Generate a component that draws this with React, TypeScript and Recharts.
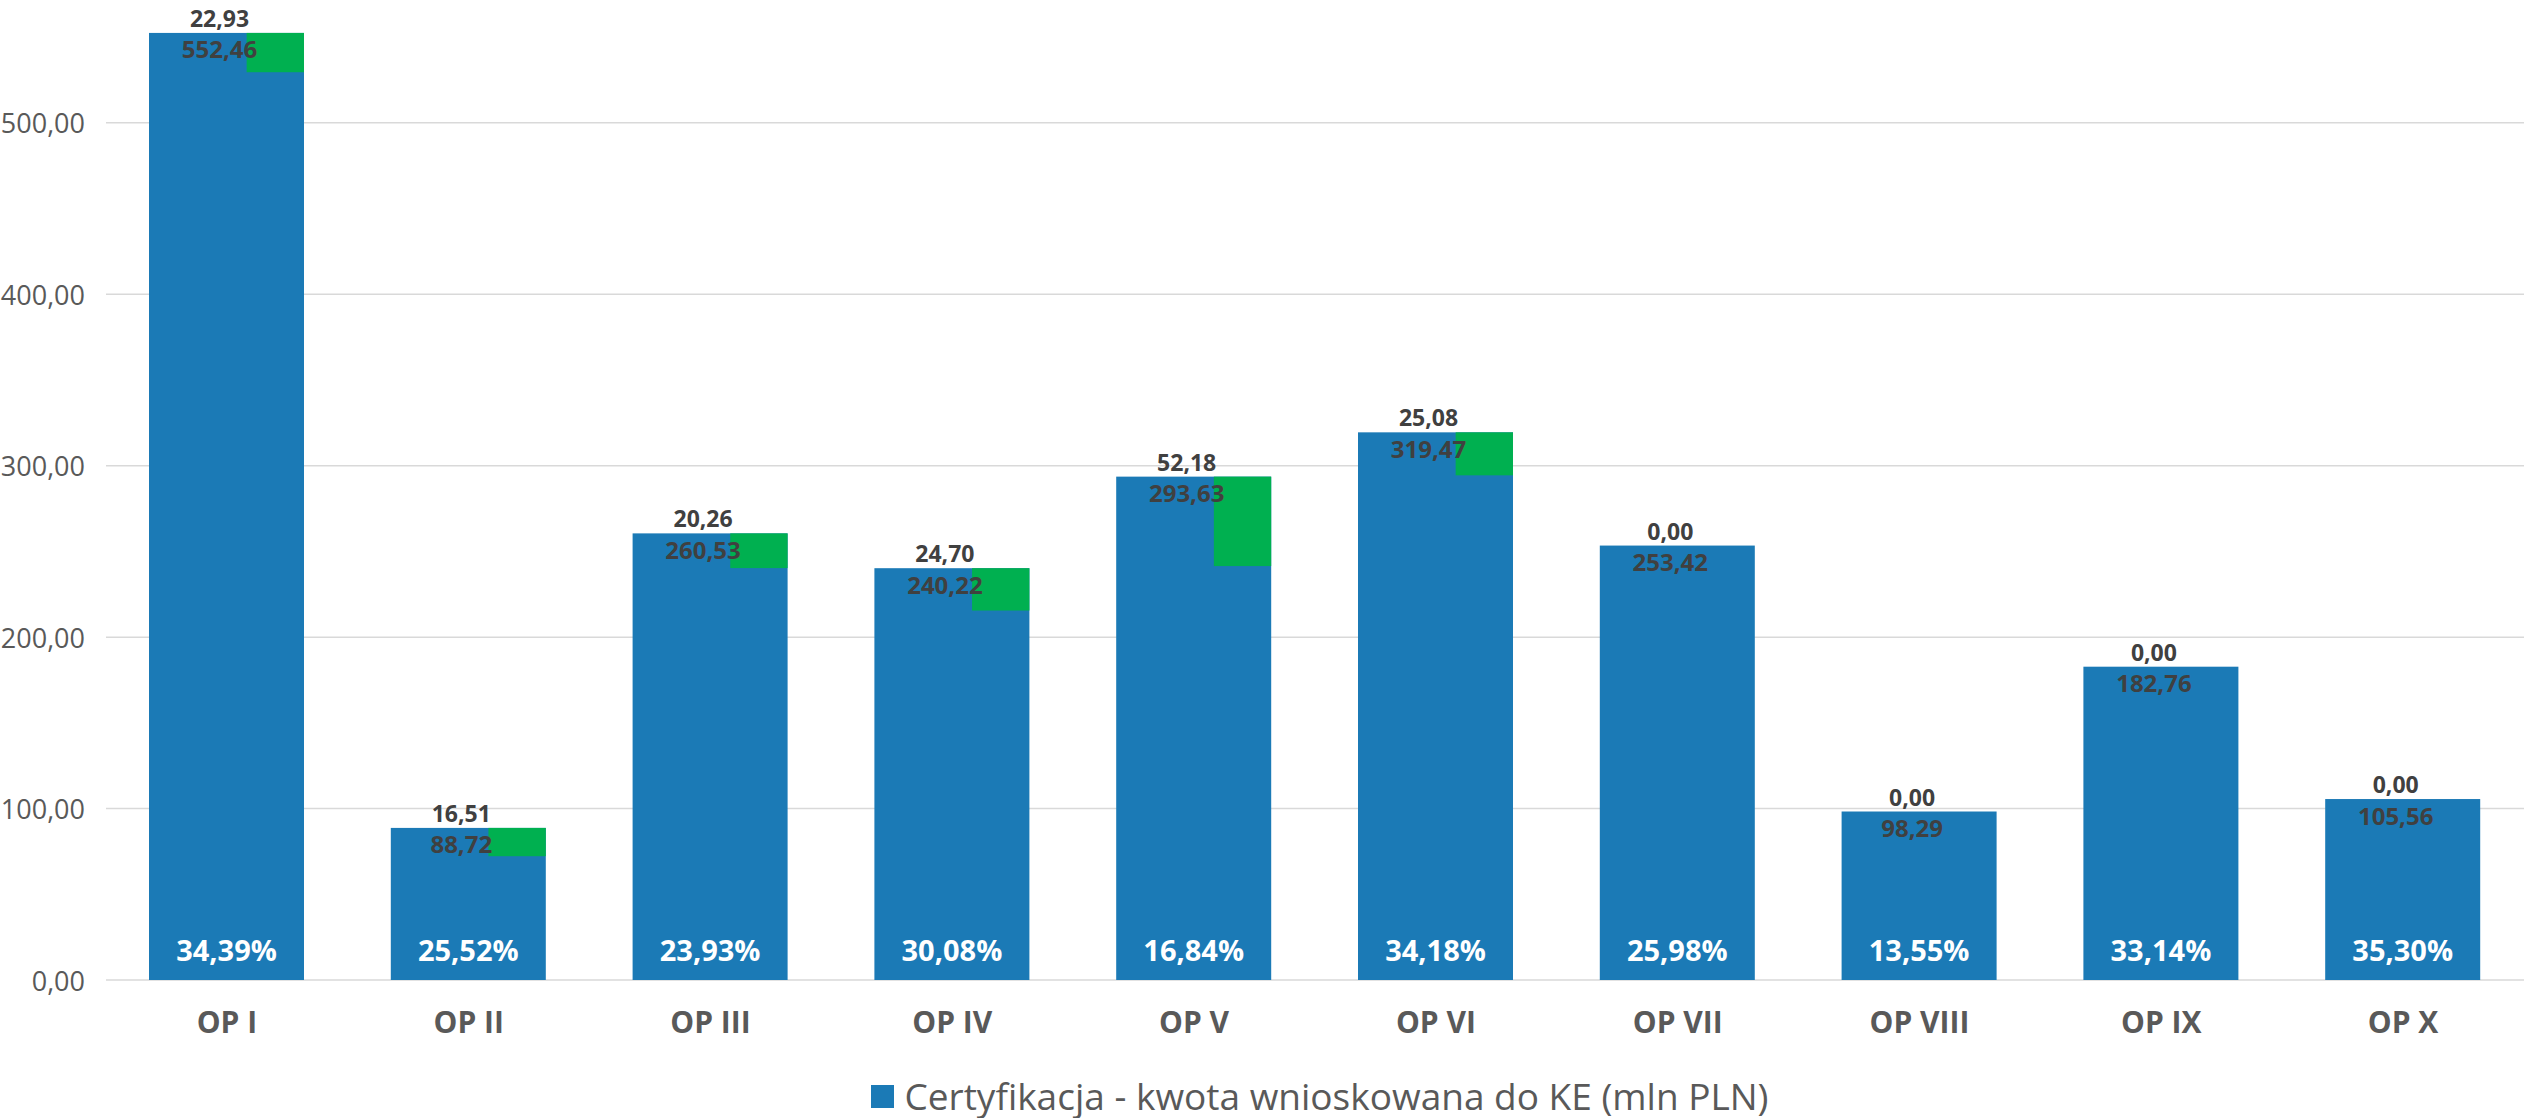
import React from 'react';
import { BarChart, Bar, XAxis, YAxis, CartesianGrid, LabelList, Legend } from 'recharts';

const categories = ['OP I', 'OP II', 'OP III', 'OP IV', 'OP V', 'OP VI', 'OP VII', 'OP VIII', 'OP IX', 'OP X'];
const totals = [552.46, 88.72, 260.53, 240.22, 293.63, 319.47, 253.42, 98.29, 182.76, 105.56];
const greens = [22.93, 16.51, 20.26, 24.7, 52.18, 25.08, 0, 0, 0, 0];
const percents = [34.39, 25.52, 23.93, 30.08, 16.84, 34.18, 25.98, 13.55, 33.14, 35.3];
const yTicks = [0, 100, 200, 300, 400, 500];

const data = categories.map((c, i) => ({ name: c, total: totals[i], green: greens[i], pct: percents[i] }));

const FONT = "'Open Sans', sans-serif";
const BLUE = '#1b7ab6';
const GREEN = '#00b050';
const fmt = (v: number) => v.toFixed(2).replace('.', ',');

const BarShape = (props: any) => {
  const { x, y, width, height, payload } = props;
  const gw = width * 0.37;
  const gh = payload.total > 0 ? (height * payload.green) / payload.total : 0;
  return (
    <g>
      <rect x={x} y={y} width={width} height={height} fill={BLUE} />
      {gh > 0 && <rect x={x + width - gw} y={y} width={gw} height={gh} fill={GREEN} />}
    </g>
  );
};

const Labels = (props: any) => {
  const { x, y, width, height, index } = props;
  const d = data[index];
  const cx = x + width / 2 - 7;
  return (
    <g fontFamily={FONT} fontWeight="bold">
      <text x={cx} y={y - 15} textAnchor="middle" dominantBaseline="central" fontSize={23} fill="#404040">
        {fmt(d.green)}
      </text>
      <text x={cx} y={y + 16} textAnchor="middle" dominantBaseline="central" fontSize={24} fill="#404040">
        {fmt(d.total)}
      </text>
      <text x={x + width / 2} y={y + height - 31} textAnchor="middle" dominantBaseline="central" fontSize={29} fill="#ffffff">
        {fmt(d.pct) + '%'}
      </text>
    </g>
  );
};

const XTick = (props: any) => {
  const { x, y, payload } = props;
  return (
    <text x={x} y={y + 33} textAnchor="middle" dominantBaseline="central" fontFamily={FONT} fontWeight="bold" fontSize={30} fill="#595959">
      {payload.value}
    </text>
  );
};

const YTick = (props: any) => {
  const { x, y, payload } = props;
  return (
    <text x={x} y={y} textAnchor="end" dominantBaseline="central" fontFamily={FONT} fontSize={27} fill="#595959">
      {fmt(payload.value)}
    </text>
  );
};

const LegendContent = () => (
  <div
    style={{
      display: 'flex',
      justifyContent: 'center',
      alignItems: 'center',
      fontFamily: FONT,
      fontSize: 37,
      lineHeight: '44px',
      color: '#595959',
      height: 44,
      paddingLeft: 116,
      boxSizing: 'border-box',
    }}
  >
    <span style={{ display: 'inline-block', width: 23, height: 23, background: BLUE, marginRight: 10 }} />
    <span>Certyfikacja - kwota wnioskowana do KE (mln PLN)</span>
  </div>
);

export default function App() {
  return (
    <div style={{ position: 'absolute', left: 0, top: 0, width: 2524, height: 1118, background: '#fff' }}>
      <BarChart width={2524} height={1118} data={data} margin={{ top: 20, right: 0, bottom: 34, left: 0 }}>
        <CartesianGrid vertical={false} horizontalValues={yTicks} stroke="#d9d9d9" strokeWidth={1.5} />
        <XAxis dataKey="name" axisLine={false} tickLine={false} tick={<XTick />} height={60} interval={0} />
        <YAxis
          domain={[0, 560]}
          ticks={yTicks}
          axisLine={false}
          tickLine={false}
          width={106}
          tickMargin={15}
          tick={<YTick />}
          allowDataOverflow
        />
        <Legend verticalAlign="bottom" content={<LegendContent />} wrapperStyle={{ bottom: 0, left: 0, width: 2524, height: 44 }} />
        <Bar dataKey="total" barSize={155} shape={<BarShape />} isAnimationActive={false}>
          <LabelList dataKey="total" content={<Labels />} />
        </Bar>
      </BarChart>
    </div>
  );
}
